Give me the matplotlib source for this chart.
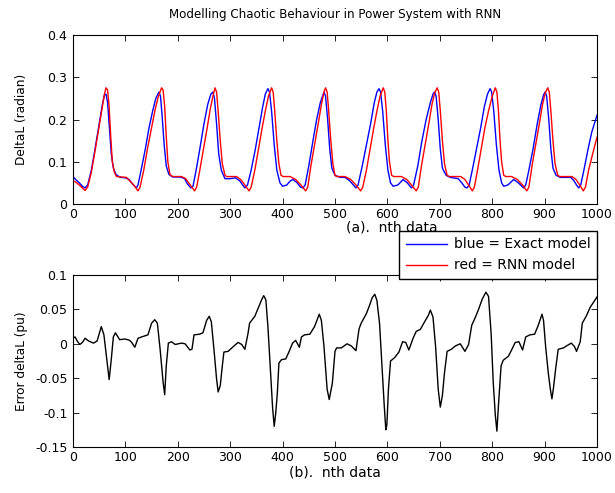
import matplotlib
matplotlib.use("Agg")
import matplotlib.pyplot as plt

plt.rcParams['font.family'] = ['DejaVu Sans']
plt.rcParams['font.size'] = 9

# exact model (blue) - polyline vertices
blue_x = [0, 5, 12, 18, 23, 28, 35, 42, 50, 56, 60, 63, 66, 69, 73, 77, 82, 90, 100, 107, 113, 121, 124,
          130, 138, 145, 152, 158, 164, 167, 170, 174, 178, 183, 190, 205, 213, 218, 225, 229,
          235, 242, 250, 257, 263, 267, 270, 274, 278, 283, 290, 300, 310, 318, 328, 333,
          340, 348, 355, 362, 367, 372, 375, 379, 384, 389, 395, 400, 408, 415, 420, 428, 434, 439, 443,
          450, 458, 465, 472, 479, 482, 486, 490, 494, 500, 510, 519, 528, 535, 540, 544,
          552, 560, 568, 575, 580, 584, 587, 591, 596, 601, 606, 611, 620, 630, 638, 646, 650,
          658, 666, 674, 682, 687, 690, 693, 697, 701, 705, 712, 720, 735, 742, 748, 752, 756,
          762, 770, 778, 785, 791, 796, 799, 803, 808, 813, 818, 822, 830, 841, 850, 860, 864,
          870, 878, 886, 893, 898, 901, 904, 908, 912, 916, 922, 930, 950, 956, 961, 965, 969,
          975, 983, 990, 995, 1000]
blue_y = [.065, .058, .05, .042, .038, .045, .08, .13, .19, .235, .258, .26, .24, .19, .12, .085, .07, .063, .062, .058, .048, .038, .045,
          .08, .13, .18, .22, .25, .265, .255, .21, .14, .09, .07, .064, .064, .06, .048, .038, .042,
          .08, .13, .19, .235, .26, .265, .25, .19, .12, .08, .06, .06, .062, .055, .038, .045,
          .08, .13, .18, .23, .26, .273, .265, .22, .14, .08, .05, .042, .045, .055, .058, .05, .04, .038, .045,
          .09, .15, .2, .24, .265, .255, .2, .13, .085, .068, .063, .063, .055, .045, .038, .045,
          .09, .14, .19, .24, .265, .273, .265, .22, .14, .08, .05, .042, .045, .058, .05, .038, .045,
          .09, .15, .2, .24, .26, .265, .255, .2, .13, .085, .068, .063, .06, .05, .04, .038, .045,
          .08, .13, .18, .23, .26, .273, .265, .22, .14, .08, .05, .042, .045, .058, .05, .038, .045,
          .08, .13, .19, .235, .258, .265, .255, .2, .13, .085, .068, .063, .063, .055, .045, .038, .045,
          .08, .13, .17, .19, .21]

# RNN model (red)
red_x = [0, 5, 12, 18, 23, 28, 35, 42, 50, 56, 60, 63, 66, 69, 72, 75, 79, 83, 102, 108, 116, 124, 128,
         135, 142, 150, 157, 163, 169, 172, 175, 178, 181, 185, 190, 207, 215, 222, 232, 236,
         242, 249, 256, 262, 267, 271, 274, 277, 281, 285, 290, 293, 312, 320, 328, 336, 340,
         347, 354, 361, 367, 373, 379, 382, 385, 389, 393, 397, 401, 414, 425, 435, 444, 448,
         454, 461, 468, 474, 479, 482, 485, 488, 492, 496, 500, 503, 519, 530, 540, 549, 553,
         560, 567, 574, 580, 586, 592, 595, 598, 601, 604, 608, 612, 627, 637, 646, 655, 659,
         665, 672, 679, 685, 690, 695, 698, 701, 705, 709, 714, 718, 740, 748, 755, 762, 766,
         772, 779, 786, 793, 800, 806, 809, 812, 815, 818, 822, 826, 837, 848, 858, 866, 870,
         876, 883, 890, 896, 901, 906, 909, 912, 916, 920, 925, 929, 952, 960, 967, 974, 978,
         984, 991, 1000]
red_y = [.055, .052, .045, .038, .032, .04, .075, .125, .185, .23, .26, .275, .27, .23, .16, .1, .075, .065, .063, .055, .045, .031, .04,
         .08, .13, .18, .225, .255, .275, .27, .23, .16, .1, .07, .065, .065, .06, .048, .031, .04,
         .08, .13, .18, .225, .255, .275, .265, .22, .15, .095, .068, .065, .065, .058, .045, .031, .04,
         .08, .13, .18, .22, .255, .275, .265, .22, .15, .095, .068, .065, .065, .058, .045, .031, .04,
         .09, .14, .19, .235, .265, .275, .265, .22, .15, .095, .068, .065, .065, .058, .045, .031, .04,
         .08, .13, .18, .22, .255, .275, .265, .22, .15, .1, .068, .065, .065, .058, .045, .031, .04,
         .09, .14, .19, .235, .262, .275, .265, .22, .15, .095, .068, .065, .065, .058, .045, .031, .04,
         .08, .13, .18, .22, .255, .275, .265, .22, .15, .1, .068, .065, .065, .058, .045, .031, .04,
         .09, .14, .19, .235, .262, .275, .265, .22, .15, .095, .068, .065, .065, .058, .045, .031, .04,
         .08, .115, .158]

# error (bottom panel)
err_x = [0, 4, 8, 13, 18, 23, 30, 39, 46, 54, 59, 64, 69, 73, 77, 81, 89, 99, 104, 108, 112, 118, 124, 131, 143,
         150, 156, 161, 166, 172, 175, 178, 182, 188, 195, 207, 214, 223, 227, 231, 242,
         248, 255, 260, 264, 269, 274, 277, 281, 285, 288, 296, 306, 315, 322, 328, 334, 337, 347,
         353, 360, 364, 368, 372, 377, 381, 384, 387, 390, 393, 398, 406, 412, 419, 425, 432, 436, 442,
         452, 461, 470, 474, 479, 485, 489, 495, 500, 503, 512, 523, 531, 540, 546, 550, 560,
         566, 571, 576, 580, 585, 590, 594, 597, 599, 602, 606, 614, 622, 629, 635, 641, 649, 655,
         663, 671, 678, 682, 687, 692, 697, 701, 705, 709, 714, 722, 730, 739, 748, 755, 761,
         767, 774, 781, 788, 793, 798, 802, 806, 809, 812, 817, 821, 831, 837, 844, 851, 858,
         864, 872, 881, 888, 895, 898, 902, 907, 911, 914, 917, 921, 926, 936, 942, 951, 957,
         961, 968, 972, 980, 987, 993, 1000]
err_y = [.008, .01, .004, -.001, .002, .008, .004, .001, .004, .025, .013, -.02, -.052, -.023, .01, .016, .006, .007, .006, .005, .002, -.005, .008, .01, .013,
         .03, .035, .03, -.006, -.056, -.074, -.032, .001, .003, -.001, .001, 0, -.009, -.008, .013, .014,
         .016, .034, .04, .032, -.008, -.051, -.07, -.061, -.032, -.012, -.011, -.004, .002, -.001, -.008, .015, .03, .04,
         .051, .064, .07, .064, .025, -.042, -.094, -.12, -.1, -.071, -.028, -.023, -.022, -.012, .001, .005, -.005, .01, .013,
         .014, .025, .043, .034, -.004, -.066, -.081, -.057, -.011, -.006, -.006, 0, -.003, -.01, .022, .03, .044,
         .056, .067, .072, .063, .03, -.037, -.09, -.125, -.118, -.066, -.025, -.02, -.012, .003, .002, -.009, .008, .018,
         .021, .032, .041, .049, .039, -.004, -.066, -.092, -.075, -.042, -.011, -.008, -.003, 0, -.011, -.001, .027,
         .037, .05, .065, .075, .069, .015, -.056, -.104, -.127, -.089, -.032, -.024, -.018, -.009, .002, .003, -.009,
         .01, .013, .014, .027, .043, .034, -.004, -.042, -.066, -.08, -.064, -.037, -.008, -.006, -.003, .001, -.004,
         -.011, .003, .03, .041, .053, .06, .068]

x_ticks = list(range(0, 1001, 100))
top_yticks = [0, 0.1, 0.2, 0.3, 0.4]
top_ylabels = ['0', '0.1', '0.2', '0.3', '0.4']
bot_yticks = [-0.15, -0.1, -0.05, 0, 0.05, 0.1]
bot_ylabels = ['-0.15', '-0.1', '-0.05', '0', '0.05', '0.1']

fig = plt.figure(figsize=(6.15, 4.93), dpi=100)
ax1 = fig.add_axes([0.1187, 0.5862, 0.852, 0.3428])
ax2 = fig.add_axes([0.1187, 0.0933, 0.852, 0.3489])

l1, = ax1.plot(blue_x, blue_y, color='#0000ff', lw=1.0, label='blue = Exact model')
l2, = ax1.plot(red_x, red_y, color='#ff0000', lw=1.0, label='red = RNN model')
ax1.set_xlim(0, 1000)
ax1.set_ylim(0, 0.4)
ax1.set_xticks(x_ticks)
ax1.set_yticks(top_yticks)
ax1.set_yticklabels(top_ylabels)
ax1.set_ylabel('DeltaL (radian)', fontsize=8.7)
ax1.set_xlabel('(a).  nth data', fontsize=10)
ax1.xaxis.set_label_coords(0.609, -0.095)
ax1.set_title('Modelling Chaotic Behaviour in Power System with RNN', fontsize=8.6, pad=12)

ax2.plot(err_x, err_y, color='black', lw=1.0)
ax2.set_xlim(0, 1000)
ax2.set_ylim(-0.15, 0.1)
ax2.set_xticks(x_ticks)
ax2.set_yticks(bot_yticks)
ax2.set_yticklabels(bot_ylabels)
ax2.set_ylabel('Error deltaL (pu)', fontsize=8.7)
ax2.set_xlabel('(b).  nth data', fontsize=10, labelpad=1)

for ax in (ax1, ax2):
    ax.tick_params(direction='in', top=True, right=True, length=4, width=0.6)
    ax.tick_params(axis='y', pad=4)
    ax.tick_params(axis='x', pad=3)
    ax.yaxis.set_label_coords(-0.086, 0.5)
    for s in ax.spines.values():
        s.set_linewidth(0.8)

fig.legend(handles=[l1, l2], loc='upper right', bbox_to_anchor=(0.971, 0.531),
           borderaxespad=0, fancybox=False, edgecolor='black', framealpha=1, fontsize=10,
           handlelength=3.0, borderpad=0.45, labelspacing=0.5, handletextpad=0.5)

fig.savefig('out.png', dpi=100)
